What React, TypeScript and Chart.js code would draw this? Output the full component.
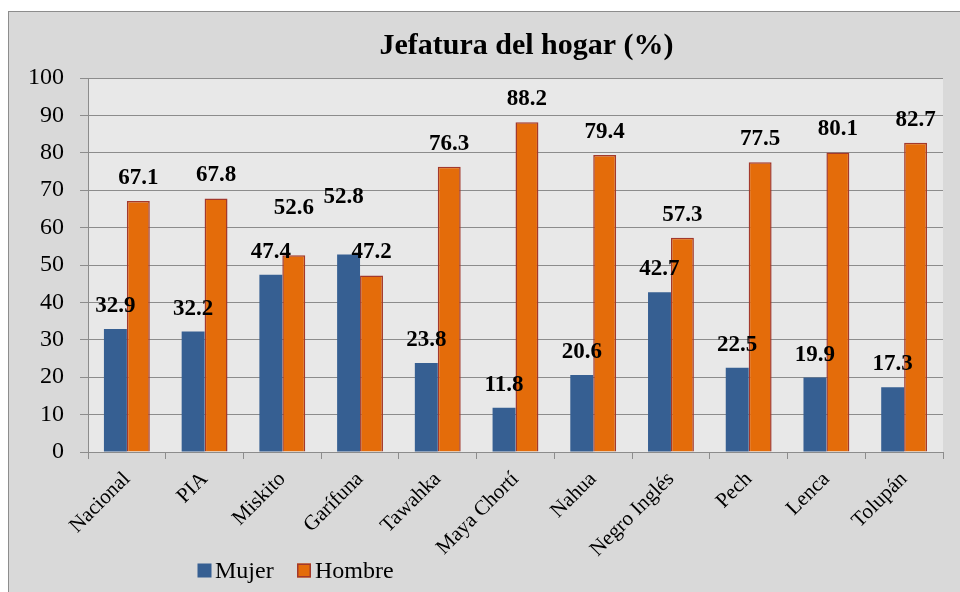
import React, { useEffect, useRef } from "react";
import { Chart, registerables } from "chart.js";

Chart.register(...registerables);

const categories = ["Nacional", "PIA", "Miskito", "Garífuna", "Tawahka", "Maya Chortí", "Nahua", "Negro Inglés", "Pech", "Lenca", "Tolupán"];
const mujer = [32.9, 32.2, 47.4, 52.8, 23.8, 11.8, 20.6, 42.7, 22.5, 19.9, 17.3];
const hombre = [67.1, 67.8, 52.6, 47.2, 76.3, 88.2, 79.4, 57.3, 77.5, 80.1, 82.7];
const yTicks = [0, 10, 20, 30, 40, 50, 60, 70, 80, 90, 100];
const titleText = "Jefatura del hogar (%)";

const SERIF = '"Liberation Serif", "Times New Roman", serif';
const BLUE = "#365f92";
const ORANGE = "#e46c0a";
const ORANGE_BORDER = "#a3392c";
const GRID = "#8c8c8c";

// label adjustments (px) for labels Excel moved to avoid overlap: key "dataset-index"
const labelShift: Record<string, [number, number]> = {
  "1-2": [0, -24],
  "0-3": [-5, -35],
};

const decorPlugin = {
  id: "decor",
  beforeDraw(chart: any) {
    const { ctx, chartArea } = chart;
    ctx.save();
    ctx.fillStyle = "#e8e8e8";
    ctx.fillRect(chartArea.left, chartArea.top, chartArea.right - chartArea.left, chartArea.bottom - chartArea.top);
    ctx.restore();
  },
  afterDraw(chart: any) {
    const { ctx } = chart;
    ctx.save();
    // title
    ctx.fillStyle = "#000";
    ctx.font = `bold 30px ${SERIF}`;
    ctx.textAlign = "center";
    ctx.textBaseline = "alphabetic";
    ctx.fillText(titleText, 517.5, 41.5);

    // data labels
    ctx.font = `bold 23px ${SERIF}`;
    chart.data.datasets.forEach((ds: any, di: number) => {
      const meta = chart.getDatasetMeta(di);
      meta.data.forEach((bar: any, i: number) => {
        const v = ds.data[i];
        const sh = labelShift[`${di}-${i}`] || [0, 0];
        ctx.fillText(v.toFixed(1), bar.x + sh[0], bar.y - 17 + sh[1]);
      });
    });

    // legend
    ctx.font = `24px ${SERIF}`;
    ctx.textAlign = "left";
    ctx.textBaseline = "alphabetic";
    const items = [
      { x: 188.5, tx: 206, ds: chart.data.datasets[0] },
      { x: 288, tx: 306, ds: chart.data.datasets[1] },
    ];
    const cy = 558.5;
    items.forEach((it) => {
      ctx.fillStyle = it.ds.backgroundColor;
      ctx.fillRect(it.x, cy - 7, 14, 14);
      if (it.ds.borderWidth) {
        ctx.strokeStyle = it.ds.borderColor;
        ctx.lineWidth = 1.5;
        ctx.strokeRect(it.x + 0.75, cy - 7 + 0.75, 12.5, 12.5);
      }
      ctx.fillStyle = "#000";
      ctx.fillText(it.ds.label, it.tx, cy + 7);
    });
    ctx.restore();
  },
};

export default function App() {
  const ref = useRef<HTMLCanvasElement | null>(null);
  useEffect(() => {
    if (!ref.current) return;
    const chart = new Chart(ref.current, {
      type: "bar",
      data: {
        labels: categories,
        datasets: [
          { label: "Mujer", data: mujer, backgroundColor: BLUE, borderWidth: 0, categoryPercentage: 0.59, barPercentage: 1 },
          { label: "Hombre", data: hombre, backgroundColor: ORANGE, borderColor: ORANGE_BORDER, borderWidth: 1.5, categoryPercentage: 0.59, barPercentage: 1 },
        ],
      },
      options: {
        animation: false,
        responsive: false,
        maintainAspectRatio: false,
        layout: { padding: { top: 66, right: 17, left: 0, bottom: 0 } },
        plugins: {
          legend: { display: false },
          title: { display: false },
          tooltip: { enabled: false },
        },
        scales: {
          x: {
            afterFit(scale: any) {
              scale.height = 140;
            },
            grid: { display: true, drawOnChartArea: false, drawTicks: true, tickLength: 7, color: GRID, offset: true },
            border: { display: true, color: GRID, width: 1 },
            ticks: {
              color: "#000",
              font: { family: SERIF, size: 21 },
              maxRotation: 45,
              minRotation: 45,
              padding: 8,
              autoSkip: false,
            },
          },
          y: {
            min: 0,
            max: 100,
            afterFit(scale: any) {
              scale.width = 79;
            },
            afterBuildTicks(scale: any) {
              scale.ticks = yTicks.map((v) => ({ value: v }));
            },
            grid: { color: GRID, lineWidth: 1, tickLength: 8, drawTicks: true },
            border: { display: true, color: GRID, width: 1 },
            ticks: {
              color: "#000",
              font: { family: SERIF, size: 24 },
              padding: 16,
            },
          },
        },
      },
      plugins: [decorPlugin],
    });
    return () => chart.destroy();
  }, []);

  return (
    <div
      style={{
        position: "fixed",
        left: 8,
        top: 11,
        width: 952,
        height: 581,
        boxSizing: "border-box",
        borderLeft: "1px solid #8d8d8d",
        borderTop: "1px solid #8d8d8d",
        background: "#d9d9d9",
      }}
    >
      <canvas ref={ref} width={951} height={580} style={{ display: "block", width: 951, height: 580 }} />
    </div>
  );
}
